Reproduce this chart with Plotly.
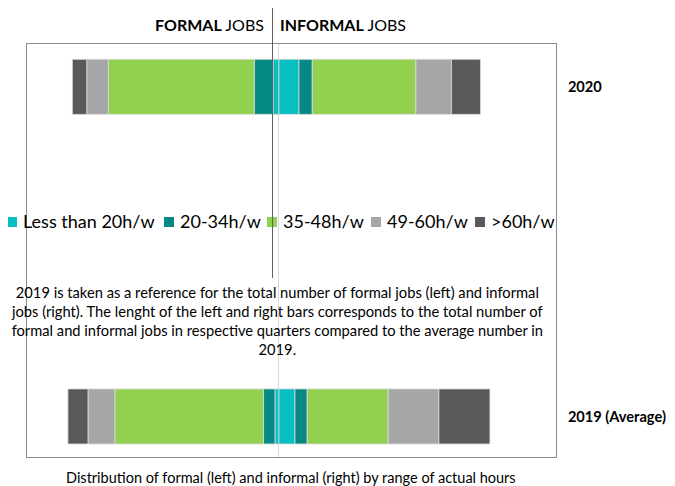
import plotly.graph_objects as go

# ---------------- data ----------------
periods = ["2019 (Average)", "2020"]
hour_ranges = ["Less than 20h/w", "20-34h/w", "35-48h/w", "49-60h/w", ">60h/w"]
# share of jobs in each hour range, in % of the 2019 average total (per side)
formal_2019 = [1.9, 5.4, 70.5, 12.7, 9.5]
formal_2020 = [2.8, 8.9, 69.2, 10.2, 6.8]
informal_2019 = [7.6, 5.8, 38.4, 24.0, 24.2]
informal_2020 = [9.5, 6.3, 49.1, 16.9, 13.7]
colors = ["#07BEC0", "#048985", "#92D050", "#A6A6A6", "#595959"]

header_left = "<b>FORMAL</b> JOBS"
header_right = "<b>INFORMAL</b> JOBS"
note = ("2019 is taken as a reference for the total number of formal jobs (left) and informal<br>"
        "jobs (right). The lenght of the left and right bars corresponds to the total number of<br>"
        "formal and informal jobs in respective quarters compared to the average number in<br>"
        "2019.")
caption = "Distribution of formal (left) and informal (right) by range of actual hours"

FONT = "Lato, 'Open Sans', sans-serif"

# ---------------- geometry helpers (page pixel -> paper) ----------------
OFF = 8  # page body margin
W, H = 675 - OFF, 486 - OFF
L, T = 27 - OFF, 44 - OFF
R = W - (556 - OFF)
B = H - (457 - OFF)
PW, PH = W - L - R, H - T - B


def px_x(x):
    return (x - OFF - L) / PW


def px_y(y):
    return (T + PH - (y - OFF)) / PH


fig = go.Figure()

for i, name in enumerate(hour_ranges):
    fig.add_trace(go.Bar(
        y=periods, x=[-formal_2019[i], -formal_2020[i]], orientation="h",
        name=name, legendgroup=name, showlegend=False,
        marker=dict(color=colors[i], line=dict(color="#D9D9D9", width=0.8)),
        width=0.167, hoverinfo="skip"))
    fig.add_trace(go.Bar(
        y=periods, x=[informal_2019[i], informal_2020[i]], orientation="h",
        name=name, legendgroup=name, showlegend=False,
        marker=dict(color=colors[i], line=dict(color="#D9D9D9", width=0.8)),
        width=0.167, hoverinfo="skip"))

annotations = []
shapes = []

# headers
annotations.append(dict(text=header_left, x=px_x(266), y=px_y(25), xref="paper", yref="paper",
                        xanchor="right", yanchor="middle", showarrow=False,
                        font=dict(family=FONT, size=16, color="#000")))
annotations.append(dict(text=header_right, x=px_x(278), y=px_y(25), xref="paper", yref="paper",
                        xanchor="left", yanchor="middle", showarrow=False,
                        font=dict(family=FONT, size=16, color="#000")))

# custom legend
sq_x = [7, 164, 267, 371, 475]
for i, name in enumerate(hour_ranges):
    x0 = sq_x[i]
    shapes.append(dict(type="rect", xref="paper", yref="paper",
                       x0=px_x(x0), x1=px_x(x0 + 10), y0=px_y(227), y1=px_y(217),
                       fillcolor=colors[i], line=dict(width=0)))
    annotations.append(dict(text=name, x=px_x(x0 + 14), y=px_y(221), xref="paper", yref="paper",
                            xanchor="left", yanchor="middle", showarrow=False,
                            font=dict(family=FONT, size=18, color="#000")))

# note
annotations.append(dict(text=note, x=px_x(277), y=px_y(320), xref="paper", yref="paper",
                        xanchor="center", yanchor="middle", showarrow=False, align="center",
                        font=dict(family=FONT, size=14.7, color="#000")))
# caption
annotations.append(dict(text=caption, x=px_x(291), y=px_y(477), xref="paper", yref="paper",
                        xanchor="center", yanchor="middle", showarrow=False,
                        font=dict(family=FONT, size=14.5, color="#000")))

# dark separator line between headers
shapes.append(dict(type="line", xref="paper", yref="paper",
                   x0=px_x(272.5), x1=px_x(272.5), y0=px_y(8), y1=px_y(278),
                   line=dict(color="#606060", width=1)))

fig.update_layout(
    width=W, height=H,
    margin=dict(l=L, r=R, t=T, b=B, pad=0, autoexpand=False),
    barmode="relative",
    paper_bgcolor="white", plot_bgcolor="white",
    showlegend=False,
    annotations=annotations, shapes=shapes,
    xaxis=dict(range=[-119.4, 131.3], showticklabels=False, showgrid=False, automargin=False,
               zeroline=True, zerolinecolor="#D9D9D9", zerolinewidth=1,
               showline=True, mirror=True, linecolor="#8C8C8C", linewidth=1, ticks=""),
    yaxis=dict(type="category", categoryorder="array", categoryarray=periods,
               range=[-0.123, 1.130], side="right", automargin=False,
               tickvals=periods, ticktext=["<b>" + p + "</b>" for p in periods],
               tickfont=dict(family=FONT, size=14.6, color="#000"),
               ticklabelstandoff=8, ticks="", showgrid=False, zeroline=False,
               showline=True, mirror=True, linecolor="#8C8C8C", linewidth=1),
)

fig.write_html("out.html")
